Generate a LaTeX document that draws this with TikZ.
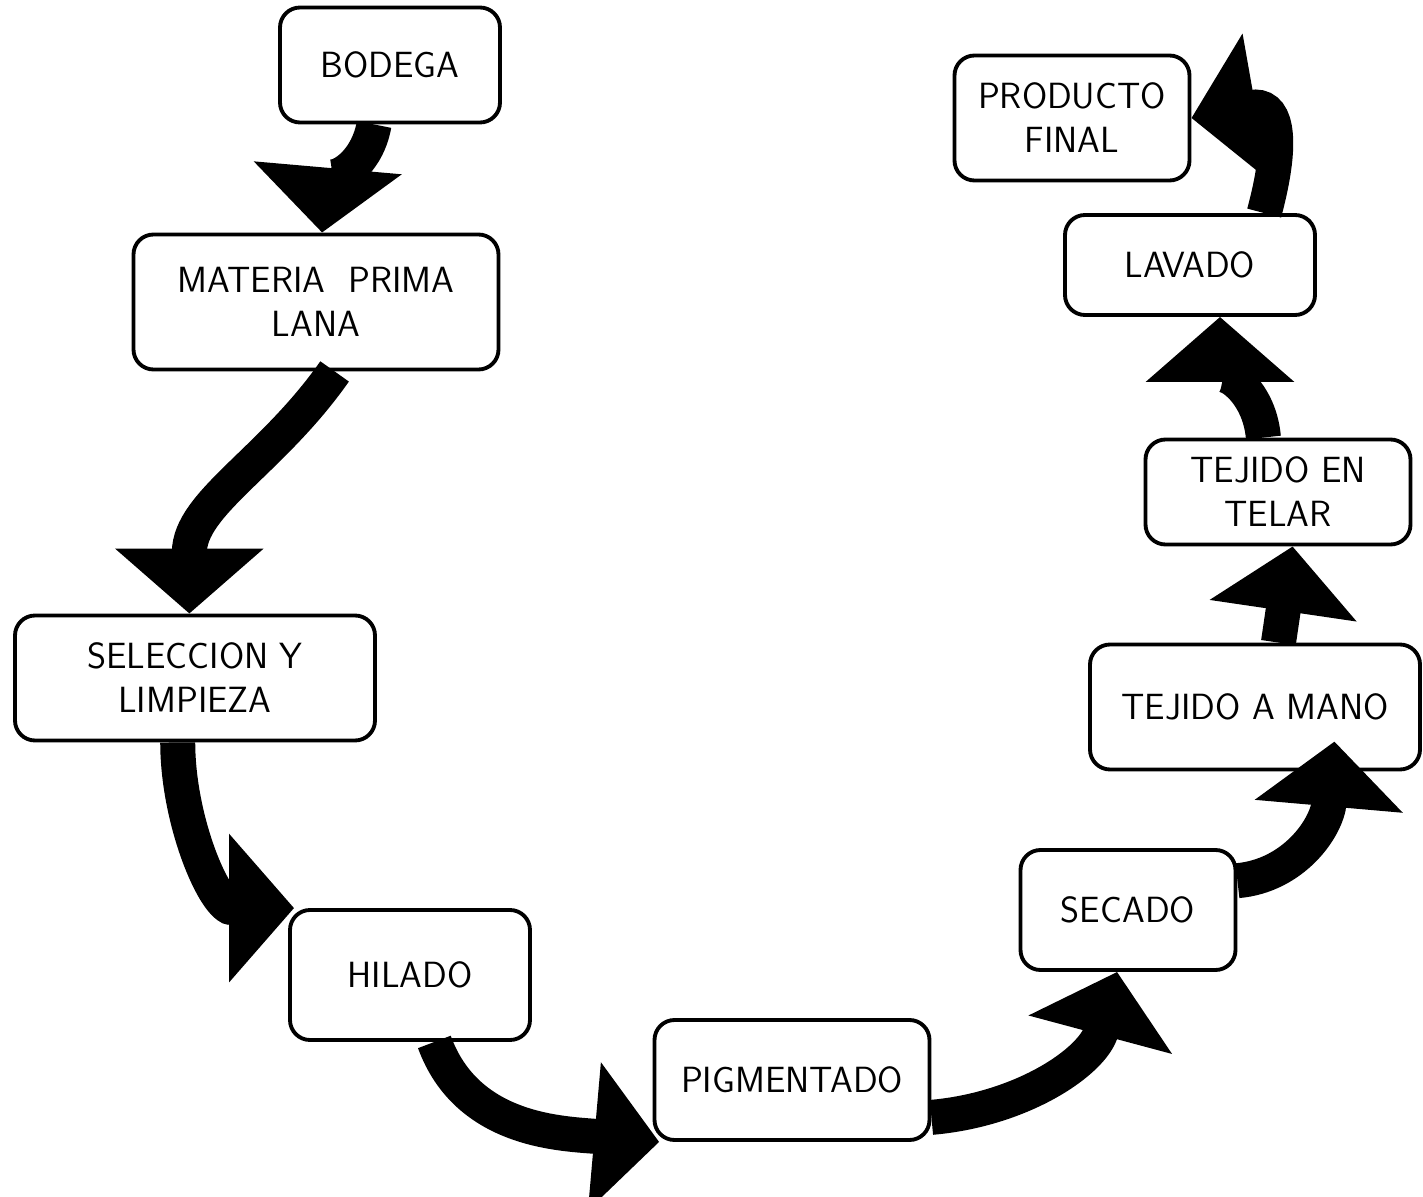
\documentclass[tikz,border=0pt]{standalone}
\usepackage{tikz}
\usetikzlibrary{arrows.meta, calc}

\begin{document}
\begin{tikzpicture}[
  box/.style={draw, line width=2.2pt, rounded corners=4mm, align=center,
    font=\sffamily\huge, inner sep=4pt},
  arr/.style={-{Triangle[length=1.3cm, width=2.9cm]}, line width=0.7cm}
]
  \useasboundingbox (0,0) rectangle (28.46,-23.94);
  % process steps
  \node[box, minimum width=4.4cm, minimum height=2.3cm] (bod) at (7.8,-1.3) {BODEGA};
  \node[box, minimum width=7.3cm, minimum height=2.7cm] (mat) at (6.32,-6.04)
    {MATERIA\ \ PRIMA\\LANA};
  \node[box, minimum width=7.2cm, minimum height=2.5cm] (sel) at (3.9,-13.56)
    {SELECCION Y\\LIMPIEZA};
  \node[box, minimum width=4.8cm, minimum height=2.6cm] (hil) at (8.2,-19.5) {HILADO};
  \node[box, minimum width=5.5cm, minimum height=2.4cm] (pig) at (15.84,-21.6) {PIGMENTADO};
  \node[box, minimum width=4.3cm, minimum height=2.4cm] (sec) at (22.56,-18.2) {SECADO};
  \node[box, minimum width=6.6cm, minimum height=2.5cm] (man) at (25.1,-14.14) {TEJIDO A MANO};
  \node[box, minimum width=5.3cm, minimum height=2.1cm] (tel) at (25.56,-9.84) {TEJIDO EN\\TELAR};
  \node[box, minimum width=5cm, minimum height=2cm] (lav) at (23.8,-5.3) {LAVADO};
  \node[box, minimum width=4.7cm, minimum height=2.5cm] (pro) at (21.44,-2.36)
    {PRODUCTO\\FINAL};

  % flow
  \draw[arr] (bod.255) to[out=-100, in=85] (mat.85);
  \draw[arr] (mat.285) to[out=-125, in=90] (sel.95);
  \draw[arr] (sel.255) to[out=-90, in=180] (hil.150);
  \draw[arr] (hil.290) to[out=-70, in=175] (pig.205);
  \draw[arr] (pig.345) to[out=5, in=-105] (sec.260);
  \draw[arr, shorten >=-0.6cm] (sec.15) to[out=5, in=-95] (man.320);
  \draw[arr] (man.70) -- (tel.285);
  \draw[arr] (tel.105) to[out=95, in=-90] (lav.300);
  \draw[arr] (lav.35) to[out=75, in=10, looseness=1.8] (pro.east);
\end{tikzpicture}
\end{document}
